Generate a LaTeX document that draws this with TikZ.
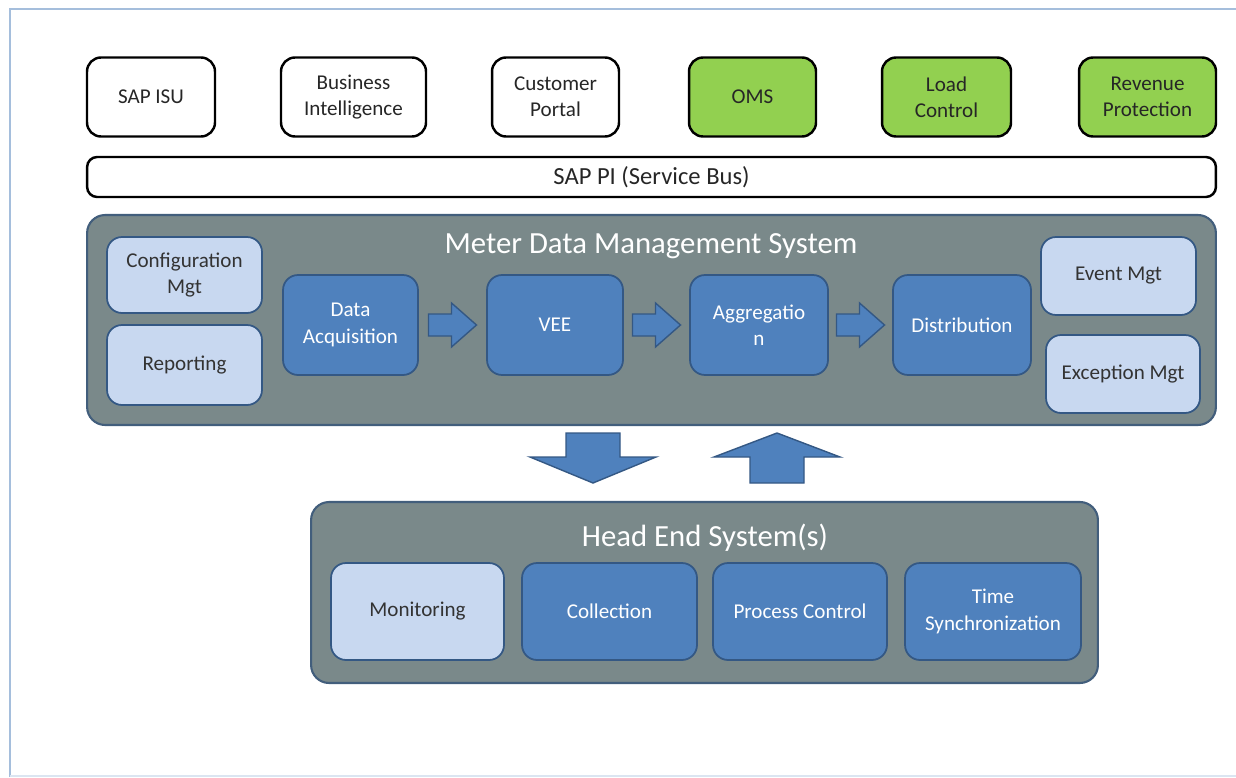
\documentclass[tikz,border=0pt]{standalone}
\usepackage{fontspec}
\setmainfont{Carlito}
\usepackage{tikz}
\usetikzlibrary{positioning}
\usetikzlibrary{calc}
\usepackage{xcolor}

\definecolor{mdmblue}{RGB}{79,129,189}
\definecolor{mdmblueline}{RGB}{52,88,132}
\definecolor{mdmlight}{RGB}{200,216,240}
\definecolor{mdmgray}{RGB}{122,137,138}
\definecolor{mdmgrayline}{RGB}{66,94,124}
\definecolor{appgreen}{RGB}{146,208,80}
\definecolor{framecol}{RGB}{165,190,220}

\tikzset{
  appbox/.style={draw=black, line width=1.4pt, rounded corners=0.28cm, align=center,
    font=\fontsize{12}{15}\selectfont, text=black!85, minimum height=1.58cm},
  greenbox/.style={appbox, fill=appgreen},
  layer/.style={draw=mdmgrayline, line width=1.2pt, fill=mdmgray, rounded corners=0.36cm},
  process/.style={draw=mdmblueline, line width=1pt, fill=mdmblue, rounded corners=0.3cm,
    align=center, text=white, font=\fontsize{12}{15}\selectfont, minimum height=2cm},
  support/.style={draw=mdmblueline, line width=1pt, fill=mdmlight, rounded corners=0.3cm,
    align=center, text=black!80, font=\fontsize{12}{15}\selectfont},
  layertitle/.style={text=white, font=\fontsize{17.5}{20}\selectfont},
  blockarrow/.style={draw=mdmblueline, line width=0.8pt, fill=mdmblue},
  rarr/.pic={\path[blockarrow] (-24,-11) -- (-1,-11) -- (-1,-22) -- (24,0)
    -- (-1,22) -- (-1,11) -- (-24,11) -- cycle;}
}

\begin{document}
\begin{tikzpicture}[x=0.02cm, y=-0.02cm]
    \useasboundingbox (0,0) rectangle (1236,777);
    \draw[framecol, line width=1.5pt] (10,777) -- (10,9) -- (1236,9);
    \draw[framecol!40, line width=1pt] (10,776) -- (1236,776);

    % applications
    \node[appbox, minimum width=2.56cm] (isu) at (151,97)   {SAP ISU};
    \node[appbox, minimum width=2.9cm]  (bi)  at (353.5,97) {Business\\Intelligence};
    \node[appbox, minimum width=2.54cm] (cp)  at (555.5,97) {Customer\\Portal};
    \node[greenbox, minimum width=2.54cm] (oms) at (752.5,97)  {OMS};
    \node[greenbox, minimum width=2.58cm] (lc)  at (946.5,97)  {Load\\Control};
    \node[greenbox, minimum width=2.74cm] (rp)  at (1147.5,97) {Revenue\\Protection};

    % service bus
    \node[appbox, rounded corners=0.2cm, minimum width=22.58cm, minimum height=0.8cm,
          font=\fontsize{14}{16}\selectfont] (bus) at (651.5,177) {SAP PI (Service Bus)};

    % meter data management
    \node[layer, minimum width=22.58cm, minimum height=4.2cm] (mdm) at (651.5,320) {};
    \node[layertitle] (mdmtitle) at (651,246) {Meter Data Management System};

    \node[support, minimum width=3.1cm, minimum height=1.52cm] (cfg) at (184.5,275) {Configuration\\Mgt};
    \node[support, minimum width=3.1cm, minimum height=1.6cm]  (rep) at (184.5,365) {Reporting};
    \node[support, minimum width=3.1cm, minimum height=1.56cm] (evt) at (1118.5,276) {Event Mgt};
    \node[support, minimum width=3.08cm, minimum height=1.56cm] (exc) at (1123,374) {Exception Mgt};

    \node[process, minimum width=2.7cm]  (da)   at (350.5,325) {Data\\Acquisition};
    \node[process, minimum width=2.72cm] (vee)  at (555,325)   {VEE};
    \node[process, minimum width=2.76cm] (agg)  at (759,325)   {Aggregatio\\n};
    \node[process, minimum width=2.76cm] (dist) at (962,325)   {Distribution};

    \pic at ($(da.east)!0.5!(vee.west)$) {rarr};
    \pic at ($(vee.east)!0.5!(agg.west)$) {rarr};
    \pic at ($(agg.east)!0.5!(dist.west)$) {rarr};

    % down / up between the layers
    \coordinate (down) at (593,433);
    \coordinate (up) at (777,483);
    \path[blockarrow] (down) ++(-27,0) -- ++(54,0) -- ++(0,24) -- ++(36,0) -- ++(-63,26)
        -- ++(-63,-26) -- ++(36,0) -- cycle;
    \path[blockarrow] (up) ++(-27,0) -- ++(54,0) -- ++(0,-26) -- ++(36,0) -- ++(-63,-24)
        -- ++(-63,24) -- ++(36,0) -- cycle;

    % head end
    \node[layer, minimum width=15.74cm, minimum height=3.62cm] (hes) at (704.5,592.5) {};
    \node[layertitle] (hestitle) at (705,538) {Head End System(s)};

    \node[support, minimum width=3.46cm, minimum height=1.94cm] (mon) at (417.5,611.5) {Monitoring};
    \node[process, minimum width=3.5cm, minimum height=1.94cm]  (col) at (609.5,611.5) {Collection};
    \node[process, minimum width=3.48cm, minimum height=1.94cm] (pc)  at (800,611.5)   {Process Control};
    \node[process, minimum width=3.52cm, minimum height=1.94cm] (ts)  at (993,611.5)   {Time\\Synchronization};

\end{tikzpicture}
\end{document}
